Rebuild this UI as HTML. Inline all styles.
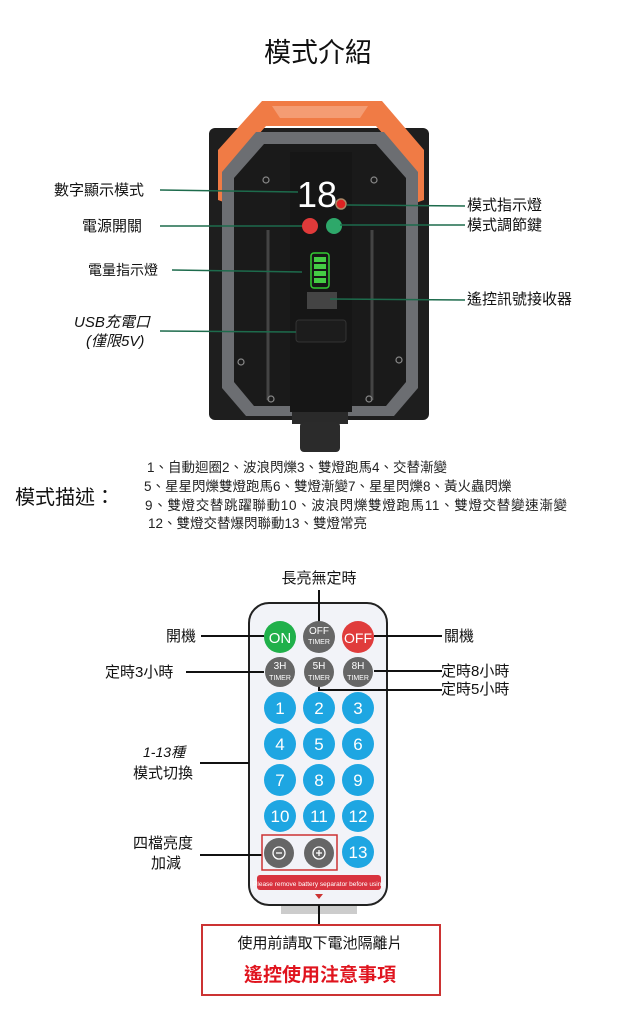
<!DOCTYPE html>
<html><head><meta charset="utf-8"><style>
body{margin:0;background:#fff;}
svg{display:block;}
text{font-family:"Liberation Sans","Noto Sans CJK TC",sans-serif;}
</style></head><body>
<svg width="630" height="1024" viewBox="0 0 630 1024">
<text x="318" y="62" font-size="27" text-anchor="middle" fill="#111">模式介紹</text>
<!-- device -->
<rect x="209" y="128" width="220" height="292" rx="6" fill="#1e1e1e"/>
<path d="M262 101 L382 101 L424 150 L424 200 L410 205 L406 160 L376 126 L266 126 L236 160 L232 205 L218 200 L218 150 Z" fill="#f07b45"/>
<path d="M272 106 L368 106 L360 118 L280 118 Z" fill="#fff" opacity="0.25"/>
<path d="M222 172 L256 132 L384 132 L418 172 L418 388 L394 416 L246 416 L222 388 Z" fill="#6c6e72"/>
<path d="M234 178 L264 144 L376 144 L406 178 L406 382 L386 406 L254 406 L234 382 Z" fill="#1a1a1a"/>
<rect x="290" y="152" width="62" height="260" fill="#161616"/>
<path d="M268 230 L268 400 M372 230 L372 400" stroke="#444" stroke-width="3"/>
<rect x="292" y="412" width="56" height="12" fill="#2a2a2a"/>
<rect x="300" y="422" width="40" height="30" rx="4" fill="#2b2b2b"/>
<text x="297" y="207" font-size="36" fill="#fff" font-family="Liberation Mono">18</text>
<circle cx="341" cy="204" r="5" fill="#d22" stroke="#a86" stroke-width="1.5"/>
<circle cx="310" cy="226" r="8" fill="#e03a3a"/>
<circle cx="334" cy="226" r="8" fill="#2ea86a"/>
<rect x="311" y="253" width="18" height="35" rx="3" fill="none" stroke="#3c3" stroke-width="1.5"/>
<rect x="314" y="257" width="12" height="5" fill="#4c4"/><rect x="314" y="264" width="12" height="5" fill="#4c4"/><rect x="314" y="271" width="12" height="5" fill="#4c4"/><rect x="314" y="278" width="12" height="5" fill="#4c4"/>
<rect x="307" y="292" width="30" height="17" fill="#444"/>
<rect x="296" y="320" width="50" height="22" rx="3" fill="#1c1c1c" stroke="#333"/>
<g fill="none" stroke="#888" stroke-width="1.2"><circle cx="266" cy="180" r="3"/><circle cx="374" cy="180" r="3"/><circle cx="241" cy="362" r="3"/><circle cx="399" cy="360" r="3"/><circle cx="271" cy="399" r="3"/><circle cx="369" cy="399" r="3"/></g>
<g stroke="#1d6b4c" stroke-width="1.5">
<line x1="160" y1="190" x2="298" y2="192"/>
<line x1="160" y1="226" x2="302" y2="226"/>
<line x1="172" y1="270" x2="302" y2="272"/>
<line x1="160" y1="331" x2="296" y2="332"/>
<line x1="347" y1="205" x2="465" y2="206"/>
<line x1="340" y1="225" x2="465" y2="225"/>
<line x1="330" y1="299" x2="465" y2="300"/>
</g>
<g font-size="15" fill="#111">
<text x="54" y="195">數字顯示模式</text>
<text x="82" y="231">電源開關</text>
<text x="88" y="275" font-size="14">電量指示燈</text>
<text x="74" y="327" font-style="italic">USB充電口</text>
<text x="86" y="346" font-style="italic">(僅限5V)</text>
<text x="467" y="210">模式指示燈</text>
<text x="467" y="230">模式調節鍵</text>
<text x="467" y="304">遙控訊號接收器</text>
</g>
<text x="15" y="504" font-size="20" fill="#111">模式描述：</text>
<g font-size="13.5" fill="#222">
<text x="147" y="472">1、自動迴圈2、波浪閃爍3、雙燈跑馬4、交替漸變</text>
<text x="144" y="491">5、星星閃爍雙燈跑馬6、雙燈漸變7、星星閃爍8、黃火蟲閃爍</text>
<text x="145" y="510" textLength="422">9、雙燈交替跳躍聯動10、波浪閃爍雙燈跑馬11、雙燈交替變速漸變</text>
<text x="148" y="528">12、雙燈交替爆閃聯動13、雙燈常亮</text>
</g>
<!-- remote -->
<text x="319" y="583" font-size="15" text-anchor="middle" fill="#111">長亮無定時</text>
<rect x="281" y="900" width="76" height="14" fill="#ccc"/>
<rect x="249" y="603" width="138" height="302" rx="20" fill="#f2f3f8" stroke="#222" stroke-width="2"/>
<g stroke="#111" stroke-width="2" fill="none">
<line x1="319" y1="590" x2="319" y2="622"/>
<line x1="201" y1="636" x2="264" y2="636"/>
<line x1="374" y1="636" x2="442" y2="636"/>
<line x1="186" y1="672" x2="264" y2="672"/>
<line x1="374" y1="671" x2="442" y2="671"/>
<polyline points="319,686 319,690 442,690"/>
<line x1="200" y1="763" x2="249" y2="763"/>
<line x1="200" y1="855" x2="262" y2="855"/>
<line x1="319" y1="905" x2="319" y2="925"/>
</g>
<g font-size="15" fill="#111">
<text x="166" y="641">開機</text>
<text x="444" y="641">關機</text>
<text x="105" y="677">定時3小時</text>
<text x="441" y="676">定時8小時</text>
<text x="441" y="694">定時5小時</text>
<text x="143" y="757" font-style="italic" font-size="14">1-13種</text>
<text x="133" y="778">模式切換</text>
<text x="133" y="848">四檔亮度</text>
<text x="151" y="868">加減</text>
</g>
<circle cx="280" cy="637" r="16" fill="#20b04a"/><text x="280" y="643" font-size="15" fill="#fff" text-anchor="middle">ON</text>
<circle cx="319" cy="637" r="16" fill="#666"/><text x="319" y="634" font-size="10" fill="#fff" text-anchor="middle">OFF</text><text x="319" y="644" font-size="7" fill="#fff" text-anchor="middle">TIMER</text>
<circle cx="358" cy="637" r="16" fill="#e03c3c"/><text x="358" y="643" font-size="14" fill="#fff" text-anchor="middle">OFF</text>
<g fill="#666"><circle cx="280" cy="672" r="15"/><circle cx="319" cy="672" r="15"/><circle cx="358" cy="672" r="15"/></g>
<g font-size="10" fill="#fff" text-anchor="middle"><text x="280" y="669">3H</text><text x="319" y="669">5H</text><text x="358" y="669">8H</text></g>
<g font-size="7" fill="#fff" text-anchor="middle"><text x="280" y="680">TIMER</text><text x="319" y="680">TIMER</text><text x="358" y="680">TIMER</text></g>
<g fill="#1ea6e2">
<circle cx="280" cy="708" r="16"/><circle cx="319" cy="708" r="16"/><circle cx="358" cy="708" r="16"/>
<circle cx="280" cy="744" r="16"/><circle cx="319" cy="744" r="16"/><circle cx="358" cy="744" r="16"/>
<circle cx="280" cy="780" r="16"/><circle cx="319" cy="780" r="16"/><circle cx="358" cy="780" r="16"/>
<circle cx="280" cy="816" r="16"/><circle cx="319" cy="816" r="16"/><circle cx="358" cy="816" r="16"/>
<circle cx="358" cy="852" r="16"/>
</g>
<g font-size="17" fill="#fff" text-anchor="middle">
<text x="280" y="714">1</text><text x="319" y="714">2</text><text x="358" y="714">3</text>
<text x="280" y="750">4</text><text x="319" y="750">5</text><text x="358" y="750">6</text>
<text x="280" y="786">7</text><text x="319" y="786">8</text><text x="358" y="786">9</text>
<text x="280" y="822">10</text><text x="319" y="822">11</text><text x="358" y="822">12</text>
<text x="358" y="858">13</text>
</g>
<rect x="262" y="835" width="75" height="35" fill="none" stroke="#c33" stroke-width="1.5"/>
<circle cx="279" cy="853" r="15" fill="#666"/><circle cx="319" cy="853" r="15" fill="#666"/>
<g stroke="#fff" stroke-width="1.3" fill="none"><circle cx="279" cy="853" r="6"/><circle cx="319" cy="853" r="6"/>
<line x1="276" y1="853" x2="282" y2="853"/><line x1="316" y1="853" x2="322" y2="853"/><line x1="319" y1="850" x2="319" y2="856"/></g>
<rect x="257" y="875" width="124" height="15" rx="3" fill="#d8333f"/>
<text x="319" y="886" font-size="6.5" fill="#fff" text-anchor="middle">Please remove battery separator before using</text>
<polygon points="315,894 323,894 319,899" fill="#c33"/>
<rect x="202" y="925" width="238" height="70" fill="#fff" stroke="#c33" stroke-width="2"/>
<text x="320" y="948" font-size="15" text-anchor="middle" fill="#111">使用前請取下電池隔離片</text>
<text x="320" y="981" font-size="19" font-weight="bold" text-anchor="middle" fill="#e0141e">遙控使用注意事項</text>
</svg>
</body></html>
